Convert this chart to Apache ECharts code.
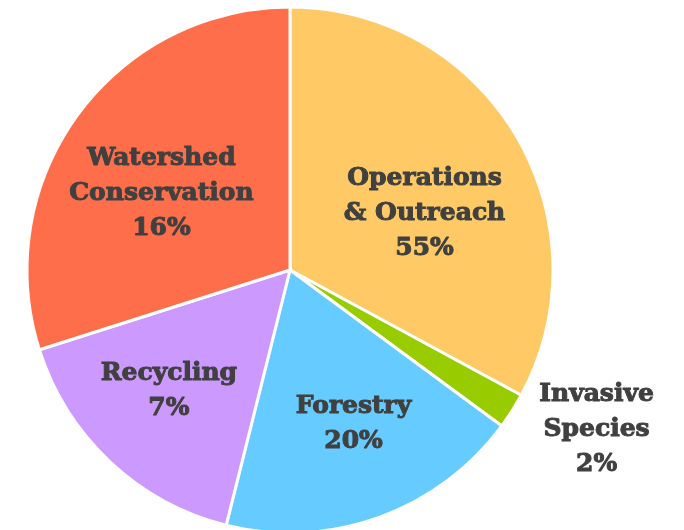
<!DOCTYPE html>
<html>
<head>
<meta charset="utf-8">
<script src="https://cdn.jsdelivr.net/npm/echarts@6/dist/echarts.min.js"></script>
<style>html,body{margin:0;padding:0;background:#fff}#c{width:684px;height:530px}</style>
</head>
<body>
<div id="c"></div>
<script>
const categories = ['Operations\n& Outreach', 'Invasive\nSpecies', 'Forestry', 'Recycling', 'Watershed\nConservation'];
const values = [32.9, 2.2, 18.8, 16.2, 29.9];
const percentLabels = ['55%', '2%', '20%', '7%', '16%'];
const colors = ['#FFC966', '#99CC00', '#66CCFF', '#CC99FF', '#FF6E4A'];
const labelShift = [[19, 12], [193, 87], [18, 27], [-29, 23], [-20, 3]];

const chart = echarts.init(document.getElementById('c'), null, {renderer: 'canvas'});
chart.setOption({
  animation: false,
  series: [{
    type: 'pie',
    center: [290, 270],
    radius: [0, 263],
    startAngle: 90,
    clockwise: true,
    avoidLabelOverlap: false,
    itemStyle: { borderColor: '#ffffff', borderWidth: 3 },
    label: {
      show: true,
      position: 'inner',
      fontFamily: 'DejaVu Serif',
      fontWeight: 'bold',
      fontSize: 25,
      lineHeight: 35,
      color: '#404040',
      textBorderColor: '#404040',
      textBorderWidth: 1,
      align: 'center',
      formatter: p => p.name + '\n' + percentLabels[p.dataIndex]
    },
    labelLine: { show: false },
    labelLayout: p => ({ dx: labelShift[p.dataIndex][0], dy: labelShift[p.dataIndex][1] }),
    data: categories.map((n, i) => ({ name: n, value: values[i], itemStyle: { color: colors[i] } }))
  }]
});
</script>
</body>
</html>
